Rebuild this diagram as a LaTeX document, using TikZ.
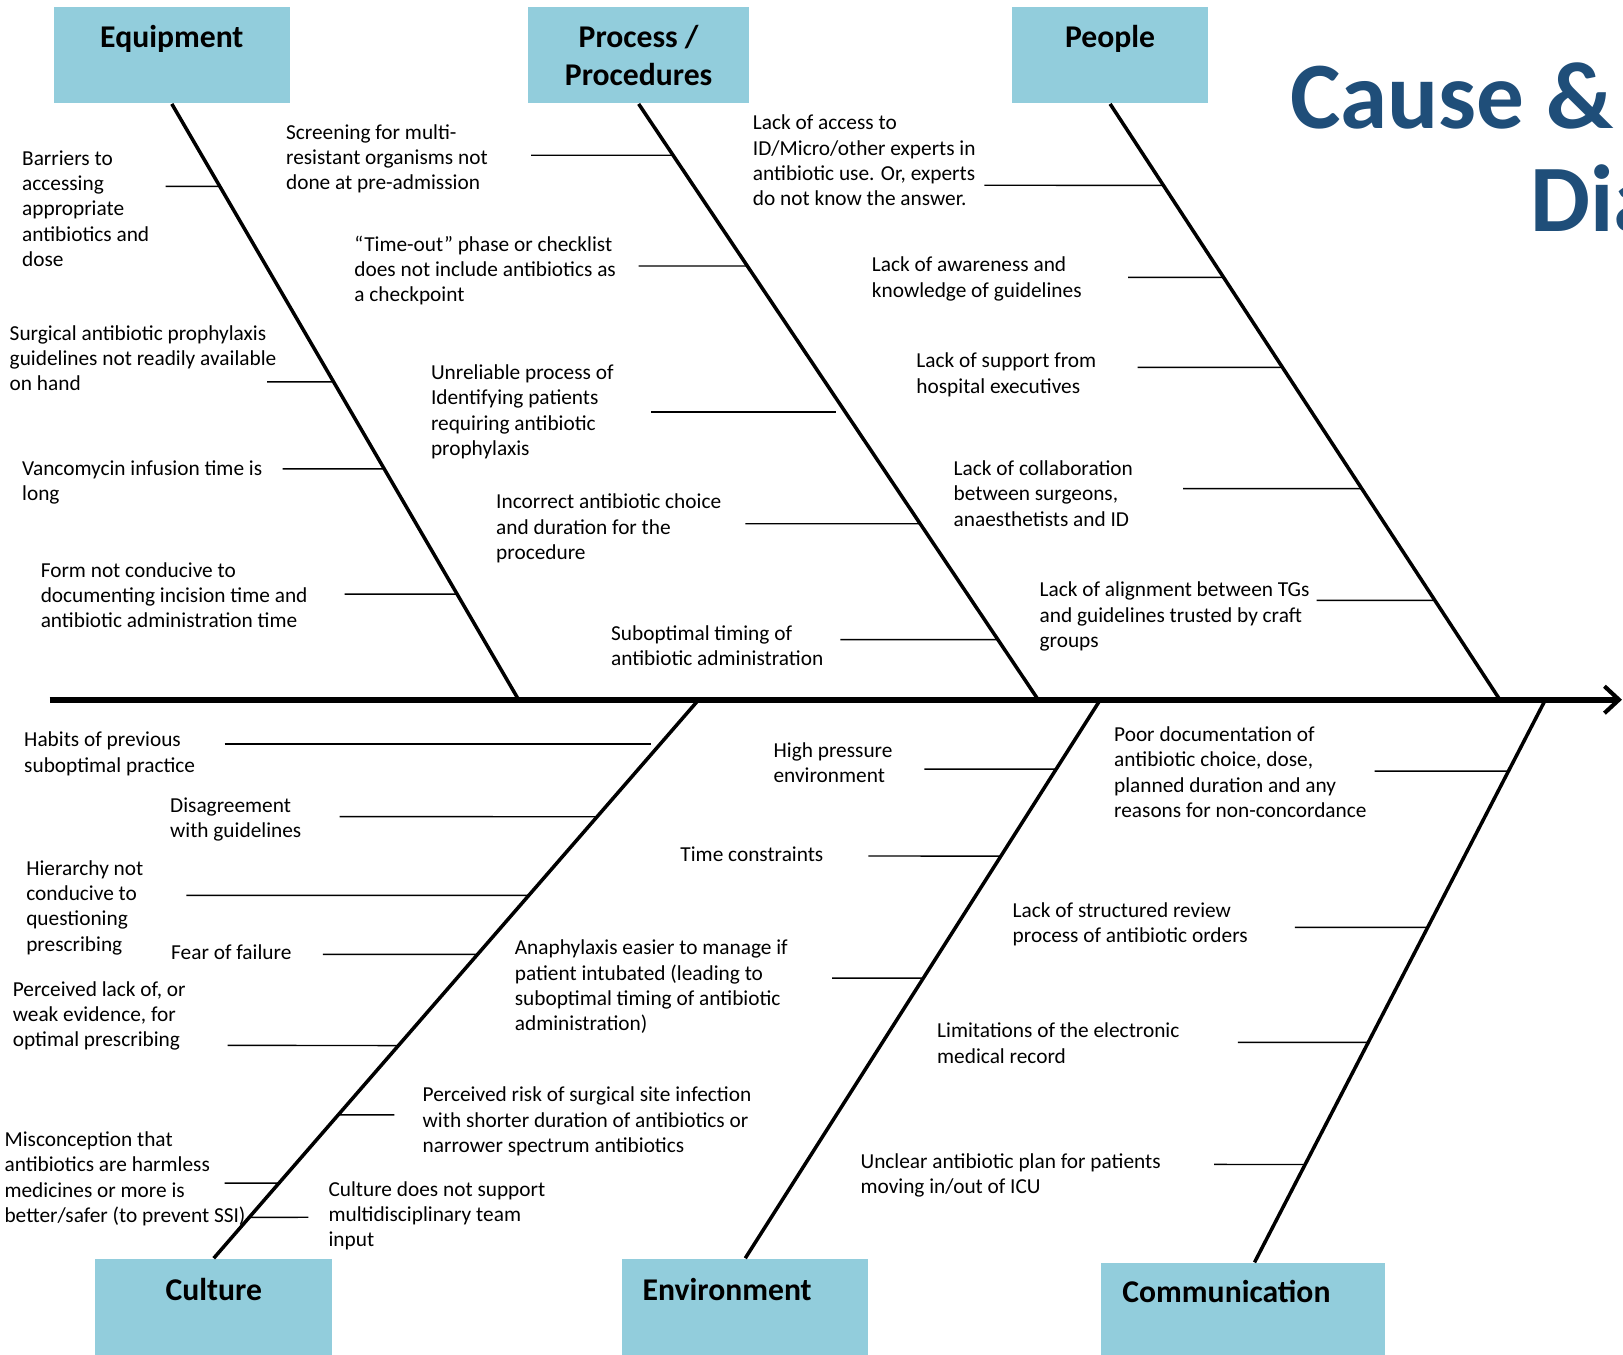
\documentclass[tikz,border=0pt]{standalone}
\usepackage{fontspec}
\setmainfont{Carlito}
\usetikzlibrary{arrows.meta}
\definecolor{boxblue}{RGB}{146,205,220}
\definecolor{titleblue}{RGB}{31,78,121}

\begin{document}
\begin{tikzpicture}[x=0.5pt,y=0.5pt]
	\tikzstyle{every node}+=[inner sep=0pt]
	\tikzstyle{catbox}=[fill=boxblue, minimum height=46.5pt]
	\tikzstyle{cattext}=[font=\bfseries\fontsize{15.3}{18.5}\selectfont, align=center, anchor=base]
	\tikzstyle{cause}=[font=\fontsize{10.3}{12.25}\selectfont, align=left, anchor=base west, yshift=-1.25pt]
	\tikzstyle{titletext}=[font=\bfseries\fontsize{46}{50}\selectfont, text=titleblue, anchor=base west]
	\tikzstyle{spine}=[line width=2.75pt, -{Straight Barb[length=7pt,width=13pt,line width=2pt]}]
	\tikzstyle{bone}=[line width=1.7pt]
	\tikzstyle{twig}=[line width=0.7pt]
	\useasboundingbox (0,0) rectangle (1568,-1309);
	\clip (0,0) rectangle (1568,-1309);
	\node [titletext] (title1) at (1246,-124) {Cause \& Effect};
	\node [titletext] (title2) at (1478,-224) {Diagram};
	\node [catbox, minimum width=114pt] (equip) at (166,-53.5) {};
	\node [catbox, minimum width=107pt] (proc) at (617,-53.5) {};
	\node [catbox, minimum width=94.5pt] (people) at (1072.5,-53.5) {};
	\node [catbox, minimum width=114.5pt] (cult) at (206.5,-1262.5) {};
	\node [catbox, minimum width=119pt] (envir) at (720,-1262.5) {};
	\node [catbox, minimum width=137pt, minimum height=44.5pt] (comm) at (1201,-1264.5) {};
	\node [cattext] (equiplbl) at (166,-46) {Equipment};
	\node [cattext] (proclbl) at (617,-83) {Process /\\Procedures};
	\node [cattext] (peoplelbl) at (1072.5,-46) {People};
	\node [cattext] (cultlbl) at (206.5,-1256) {Culture};
	\node [cattext] (envirlbl) at (702.5,-1256) {Environment};
	\node [cattext, anchor=base west] (commlbl) at (1084,-1258.5) {Communication};
	\coordinate (tail) at (48,-676);
	\coordinate (head) at (1567,-676);
	\coordinate (ej) at (501,-676);
	\coordinate (pj) at (1003,-676);
	\coordinate (qj) at (1449,-676);
	\coordinate (cj) at (675,-676);
	\coordinate (vj) at (1063,-676);
	\coordinate (mj) at (1493,-676);
	\coordinate (mtop) at ([xshift=5.5pt]comm.north);
	\draw [spine] (tail) -- (head);
	\draw [bone] (equip.south) -- (ej);
	\draw [bone] (proc.south) -- (pj);
	\draw [bone] (people.south) -- (qj);
	\draw [bone] (cult.north) -- (cj);
	\draw [bone] (envir.north) -- (vj);
	\draw [bone] (mtop) -- (mj);
	\node [cause] (eq1) at (21,-255) {Barriers to\\accessing\\appropriate\\antibiotics and\\dose};
	\node [cause] (eq2) at (9,-375) {Surgical antibiotic prophylaxis\\guidelines not readily available\\on hand};
	\node [cause] (eq3) at (21,-481.5) {Vancomycin infusion time is\\long};
	\node [cause] (eq4) at (39,-604) {Form not conducive to\\documenting incision time and\\antibiotic administration time};
	\node [cause] (pr1) at (276,-181) {Screening for multi-\\resistant organisms not\\done at pre-admission};
	\node [cause] (pr2) at (342,-289) {“Time-out” phase or checklist\\does not include antibiotics as\\a checkpoint};
	\node [cause] (pr3) at (416,-437.5) {Unreliable process of\\Identifying patients\\requiring antibiotic\\prophylaxis};
	\node [cause] (pr4) at (479,-538) {Incorrect antibiotic choice\\and duration for the\\procedure};
	\node [cause] (pr5) at (590,-640.5) {Suboptimal timing of\\antibiotic administration};
	\node [cause] (pe1) at (727,-196.5) {Lack of access to\\ID/Micro/other experts in\\antibiotic use. Or, experts\\do not know the answer.};
	\node [cause] (pe2) at (842,-284.5) {Lack of awareness and\\knowledge of guidelines};
	\node [cause] (pe3) at (885,-377.5) {Lack of support from\\hospital executives};
	\node [cause] (pe4) at (921,-506) {Lack of collaboration\\between surgeons,\\anaesthetists and ID};
	\node [cause] (pe5) at (1004,-623) {Lack of alignment between TGs\\and guidelines trusted by craft\\groups};
	\node [cause] (cu1) at (23,-743.5) {Habits of previous\\suboptimal practice};
	\node [cause] (cu2) at (164,-806.5) {Disagreement\\with guidelines};
	\node [cause] (cu3) at (25,-916.5) {Hierarchy not\\conducive to\\questioning\\prescribing};
	\node [cause] (cu4) at (165,-924) {Fear of failure};
	\node [cause] (cu5) at (12,-1009) {Perceived lack of, or\\weak evidence, for\\optimal prescribing};
	\node [cause] (cu6) at (408,-1111) {Perceived risk of surgical site infection\\with shorter duration of antibiotics or\\narrower spectrum antibiotics};
	\node [cause] (cu7) at (4,-1178.5) {Misconception that\\antibiotics are harmless\\medicines or more is\\better/safer (to prevent SSI)};
	\node [cause] (cu8) at (317,-1202) {Culture does not support\\multidisciplinary team\\input};
	\node [cause] (en1) at (747,-753.5) {High pressure\\environment};
	\node [cause] (en2) at (657,-830) {Time constraints};
	\node [cause] (en3) at (497,-993.5) {Anaphylaxis easier to manage if\\patient intubated (leading to\\suboptimal timing of antibiotic\\administration)};
	\node [cause] (co1) at (1076,-787.5) {Poor documentation of\\antibiotic choice, dose,\\planned duration and any\\reasons for non-concordance};
	\node [cause] (co2) at (978,-908.5) {Lack of structured review\\process of antibiotic orders};
	\node [cause] (co3) at (905,-1024.5) {Limitations of the electronic\\medical record};
	\node [cause] (co4) at (831,-1150.5) {Unclear antibiotic plan for patients\\moving in/out of ICU};
	\coordinate (e1) at (160,-180);
	\coordinate (e2) at (258,-369);
	\coordinate (e3) at (273,-453);
	\coordinate (e4) at (333,-574);
	\coordinate (p1) at (513,-150);
	\coordinate (p2) at (617,-257);
	\coordinate (p3) at (629,-398);
	\coordinate (p4) at (720,-506);
	\coordinate (p5) at (812,-618);
	\coordinate (q1) at (951,-179);
	\coordinate (q2) at (1090,-268);
	\coordinate (q3) at (1099,-355);
	\coordinate (q4) at (1143,-472);
	\coordinate (q5) at (1272,-580);
	\coordinate (c1) at (217,-719);
	\coordinate (c2) at (328,-789);
	\coordinate (c3) at (180,-865);
	\coordinate (c4) at (312,-922);
	\coordinate (c5) at (220,-1010);
	\coordinate (c6) at (381,-1077);
	\coordinate (c7) at (217,-1143);
	\coordinate (c8) at (298,-1176);
	\coordinate (v1) at (893,-743);
	\coordinate (v2) at (839,-827);
	\coordinate (v3) at (804,-945);
	\coordinate (m1) at (1328,-745);
	\coordinate (m2) at (1251,-896);
	\coordinate (m3) at (1196,-1007);
	\coordinate (m4) at (1173,-1125);
	\draw [twig] (e1) -- (intersection of equip.south--ej and e1--e1-|ej);
	\draw [twig] (e2) -- (intersection of equip.south--ej and e2--e2-|ej);
	\draw [twig] (e3) -- (intersection of equip.south--ej and e3--e3-|ej);
	\draw [twig] (e4) -- (intersection of equip.south--ej and e4--e4-|ej);
	\draw [twig] (p1) -- (intersection of proc.south--pj and p1--p1-|pj);
	\draw [twig] (p2) -- (intersection of proc.south--pj and p2--p2-|pj);
	\draw [twig] (p3) -- ++(179,0);
	\draw [twig] (p4) -- (intersection of proc.south--pj and p4--p4-|pj);
	\draw [twig] (p5) -- (intersection of proc.south--pj and p5--p5-|pj);
	\draw [twig] (q1) -- (intersection of people.south--qj and q1--q1-|qj);
	\draw [twig] (q2) -- (intersection of people.south--qj and q2--q2-|qj);
	\draw [twig] (q3) -- (intersection of people.south--qj and q3--q3-|qj);
	\draw [twig] (q4) -- (intersection of people.south--qj and q4--q4-|qj);
	\draw [twig] (q5) -- (intersection of people.south--qj and q5--q5-|qj);
	\draw [twig] (c1) -- ++(412,0);
	\draw [twig] (c2) -- (intersection of cult.north--cj and c2--c2-|cj);
	\draw [twig] (c3) -- (intersection of cult.north--cj and c3--c3-|cj);
	\draw [twig] (c4) -- (intersection of cult.north--cj and c4--c4-|cj);
	\draw [twig] (c5) -- (intersection of cult.north--cj and c5--c5-|cj);
	\draw [twig] (intersection of cult.north--cj and c6--c6-|cj) -- (c6);
	\draw [twig] (c7) -- (intersection of cult.north--cj and c7--c7-|cj);
	\draw [twig] (intersection of cult.north--cj and c8--c8-|cj) -- (c8);
	\draw [twig] (v1) -- (intersection of envir.north--vj and v1--v1-|vj);
	\draw [twig] (v2) -- (intersection of envir.north--vj and v2--v2-|vj);
	\draw [twig] (v3) -- (intersection of envir.north--vj and v3--v3-|vj);
	\draw [twig] (m1) -- (intersection of mtop--mj and m1--m1-|mj);
	\draw [twig] (m2) -- (intersection of mtop--mj and m2--m2-|mj);
	\draw [twig] (m3) -- (intersection of mtop--mj and m3--m3-|mj);
	\draw [twig] (m4) -- (intersection of mtop--mj and m4--m4-|mj);
\end{tikzpicture}
\end{document}
